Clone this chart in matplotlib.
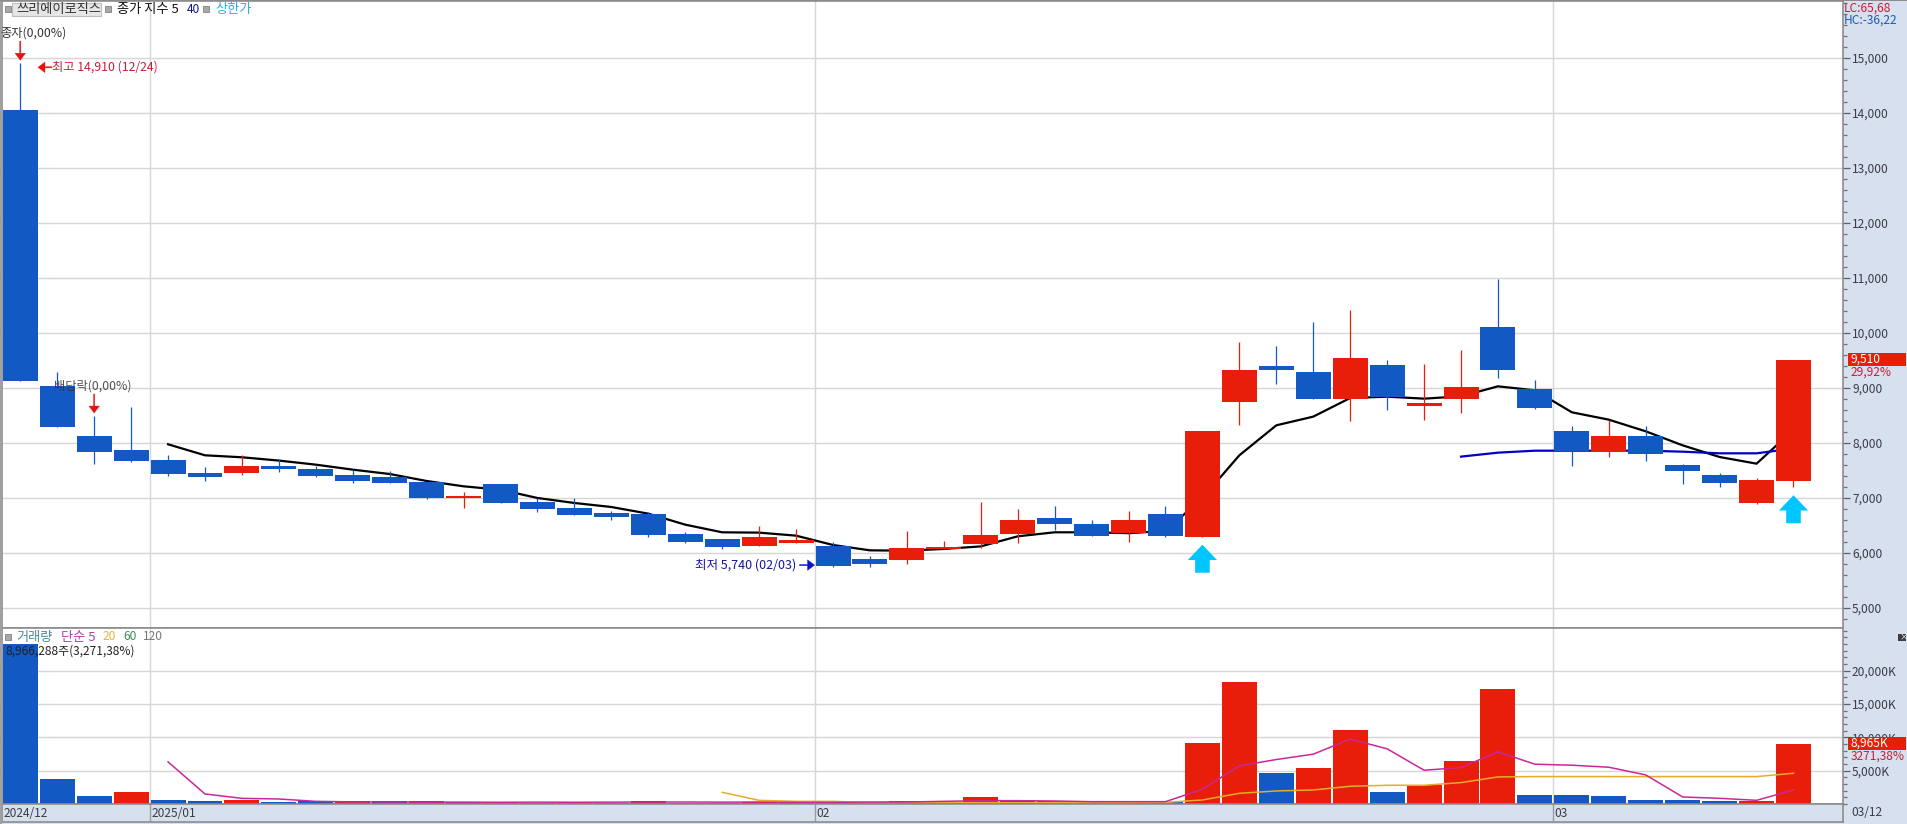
import matplotlib
matplotlib.use("Agg")
import matplotlib.pyplot as plt
from matplotlib.patches import Rectangle
from matplotlib.ticker import FuncFormatter, MultipleLocator

plt.rcParams['font.family'] = ['Noto Sans CJK KR', 'DejaVu Sans']

W, H = 1908, 824

# candles, oldest first
opens = [14050, 9040, 8127, 7873, 7690, 7460, 7460, 7580, 7525, 7420, 7380, 7290, 7000, 7255, 6933, 6824, 6720,
         6715, 6350, 6260, 6133, 6188, 6133, 5897, 5879, 6073, 6170, 6350, 6642, 6533, 6370, 6715, 6290,
         8739, 9406, 9297, 8806, 9424, 8679, 8806, 10115, 8988, 8224, 7842, 8133, 7606, 7424, 6915, 7315]
closes = [9130, 8297, 7842, 7678, 7440, 7380, 7580, 7525, 7400, 7310, 7270, 7000, 7040, 6900, 6806, 6697, 6660,
          6333, 6206, 6115, 6297, 6242, 5770, 5806, 6097, 6115, 6333, 6606, 6533, 6315, 6606, 6315, 8218,
          9333, 9333, 8806, 9552, 8842, 8733, 9024, 9333, 8642, 7861, 8133, 7806, 7497, 7279, 7333, 9510]
highs = [14910, 9290, 8490, 8655, 7780, 7570, 7780, 7710, 7580, 7510, 7490, 7290, 7110, 7255, 7000, 7000, 6760,
         6740, 6376, 6260, 6497, 6442, 6206, 5950, 6406, 6224, 6933, 6806, 6860, 6606, 6770, 6860, 8218,
         9842, 9770, 10206, 10424, 9515, 9442, 9697, 10988, 9151, 8315, 8424, 8315, 7624, 7460, 7370, 9510]
lows = [9130, 8297, 7620, 7650, 7400, 7310, 7420, 7480, 7380, 7270, 7270, 6980, 6820, 6900, 6740, 6697, 6594,
        6285, 6188, 6080, 6133, 6188, 5740, 5750, 5806, 6073, 6097, 6188, 6424, 6315, 6206, 6297, 6290,
        8333, 9079, 8806, 8406, 8606, 8424, 8552, 9188, 8624, 7588, 7751, 7680, 7260, 7206, 6897, 7205]

ma5 = [7976, 7776, 7740, 7680, 7606, 7515, 7436, 7309, 7212, 7150, 7000, 6909, 6836, 6715, 6515, 6376, 6370, 6315,
       6145, 6048, 6042, 6073, 6120, 6303, 6376, 6376, 6360, 6400, 7000, 7776, 8321, 8479, 8818, 8842, 8806, 8848,
       9030, 8958, 8558, 8424, 8212, 7957, 7745, 7624, 8240]
ma5_start = 4
ma40 = [7752, 7824, 7860, 7860, 7860, 7860, 7842, 7812, 7812, 7900]
ma40_start = 39

volumes = [24000, 3765, 1205, 1807, 552, 400, 600, 300, 400, 400, 400, 500, 250, 250, 200, 250, 200, 500, 200, 200,
           300, 250, 300, 150, 500, 150, 1050, 550, 450, 300, 450, 350, 9186, 18373, 4668, 5422, 11145, 1807, 2861,
           6476, 17319, 1355, 1355, 1205, 602, 602, 452, 452, 8965]
volume_up = [0, 0, 0, 1, 0, 0, 1, 0, 0, 1, 0, 1, 0, 1, 0, 1, 0, 1, 0, 0, 1, 0, 1, 0, 1, 0, 1, 0, 0, 0, 1, 0,
             1, 1, 0, 1, 1, 0, 1, 1, 1, 0, 0, 0, 0, 0, 0, 1, 1]

vol_ma5 = [6325, 1506, 853, 753, 400, 320, 300, 280, 280, 260, 280, 260, 280, 300, 300, 280, 300, 250, 250, 300,
           300, 400, 500, 500, 450, 350, 350, 350, 2209, 5723, 6677, 7480, 9739, 8283, 5070, 5472, 7831, 5974,
           5823, 5522, 4367, 1054, 853, 552, 2108]
vol_ma5_start = 4
vol_ma20 = [1750, 550, 400, 400, 200, 200, 200, 200, 200, 200, 200, 200, 250, 602, 1606, 1958, 2108, 2660, 2811,
            2811, 3213, 4066, 4116, 4116, 4116, 4116, 4116, 4116, 4116, 4618]
vol_ma20_start = 19

month_starts = [0, 4, 22, 42]
month_labels = ["2024/12", "2025/01", "02", "03"]

price_ticks = [5000, 6000, 7000, 8000, 9000, 10000, 11000, 12000, 13000, 14000, 15000]
volume_ticks = [5000, 10000, 15000, 20000]
signal_bars = [32, 48]
signal_tips = [6150, 7050]

RED = "#e81e0a"
BLUE = "#1259c3"
GRID = "#d6d6d6"
PANEL = "#d6e0ee"
EDGE = "#8c8c8c"
TICK_TEXT = "#3c3c46"
FS = 8.6
FS_KR = 9.5


def box(left, top, right, bottom):
    return [left / W, 1 - bottom / H, (right - left) / W, (bottom - top) / H]


def label(x, y, text, color="#222222", size=FS, **kw):
    fig.text(x / W, 1 - y / H, text, color=color, fontsize=size, va="center", **kw)


def marker(x, y):
    fig.add_artist(Rectangle((x / W, 1 - (y + 3) / H), 6 / W, 6 / H, transform=fig.transFigure,
                             facecolor="#a8a8a8", edgecolor="#707070", lw=0.5))


fig = plt.figure(figsize=(W / 100, H / 100), dpi=100, facecolor=PANEL)
ax = fig.add_axes(box(2, 1, 1843, 628))
vol = fig.add_axes(box(2, 628, 1843, 804))
strip = fig.add_axes(box(2, 804, 1843, 822))

xs = list(range(len(opens)))
xlim = (-0.495, 49.34)
bar_w = 0.947

for a in (ax, vol):
    a.set_xlim(xlim)
    a.set_xticks([])
    a.yaxis.tick_right()
    a.grid(axis="y", color=GRID, lw=1.0)
    a.set_axisbelow(True)
    for m in month_starts[1:]:
        a.axvline(m - 0.5, color=GRID, lw=1.0, zorder=0.5)
    for s in a.spines.values():
        s.set_color(EDGE)
        s.set_linewidth(1.2)
    a.tick_params(axis="y", which="major", length=5, width=0.9, color="#606060", labelcolor=TICK_TEXT,
                  labelsize=FS, pad=1.5)
    a.tick_params(axis="y", which="minor", length=3, width=0.9, color="#707070", left=False, right=True)
    a.yaxis.set_major_formatter(FuncFormatter(lambda v, p: f"{int(v):,}"))

# price pane
ax.set_ylim(4636, 16036)
ax.set_yticks(price_ticks)
ax.yaxis.set_minor_locator(MultipleLocator(200))

ax.plot(range(ma5_start, ma5_start + len(ma5)), ma5, color="#000000", lw=1.6, zorder=2)
ax.plot(range(ma40_start, ma40_start + len(ma40)), ma40, color="#0000c8", lw=1.6, zorder=2)

for i in xs:
    c = RED if closes[i] >= opens[i] else BLUE
    ax.vlines(i, lows[i], highs[i], color=c, lw=0.9, zorder=3)
    ax.bar(i, abs(closes[i] - opens[i]), bottom=min(opens[i], closes[i]), width=bar_w, color=c, zorder=4)

for i, tip in zip(signal_bars, signal_tips):
    ax.annotate("", xy=(i, tip), xytext=(0, -28), textcoords="offset pixels", annotation_clip=False,
                arrowprops=dict(width=10.5, headwidth=21, headlength=11, shrink=0, facecolor="#00c6ff",
                                edgecolor="none"), zorder=6)


def small_arrow(xy, offset, color):
    ax.annotate("", xy=xy, xytext=offset, textcoords="offset pixels",
                arrowprops=dict(width=0.8, headwidth=7.5, headlength=5, shrink=0, facecolor=color,
                                edgecolor=color, lw=0.3), zorder=6)


small_arrow((0, 14960), (0, 19), "#e81010")
small_arrow((2, 8545), (0, 19), "#e81010")
small_arrow((0.48, 14830), (14, 0), "#e81010")
small_arrow((21.5, 5780), (-15, 0), "#1010c8")

# volume pane
vol.set_ylim(0, 26426)
vol.set_yticks(volume_ticks)
vol.yaxis.set_minor_locator(MultipleLocator(1000))
vol.yaxis.set_major_formatter(FuncFormatter(lambda v, p: f"{int(v):,}K"))
vol.bar(xs, volumes, width=bar_w, color=[RED if u else BLUE for u in volume_up], zorder=3)
vol.plot(range(vol_ma20_start, vol_ma20_start + len(vol_ma20)), vol_ma20, color="#e8ac28", lw=1.1, zorder=4)
vol.plot(range(vol_ma5_start, vol_ma5_start + len(vol_ma5)), vol_ma5, color="#c8289a", lw=1.1, zorder=5)

# date strip
strip.set_xlim(xlim)
strip.set_ylim(0, 1)
strip.set_xticks([])
strip.set_yticks([])
strip.set_facecolor(PANEL)
for s in strip.spines.values():
    s.set_color(EDGE)
    s.set_linewidth(1.2)
for m, t in zip(month_starts, month_labels):
    if m > 0:
        strip.axvline(m - 0.5, color="#9a9aa0", lw=1)
    strip.text(m - 0.46, 0.46, t, color=TICK_TEXT, fontsize=FS, va="center", ha="left")
label(1851, 813, "03/12", TICK_TEXT)

# header of price pane
marker(5, 9)
fig.add_artist(Rectangle((12.5 / W, 1 - 16 / H), 89 / W, 13 / H, transform=fig.transFigure,
                         facecolor="#e6e6e6", edgecolor="#bdbdbd", lw=0.8, zorder=5))
label(16, 9.5, "쓰리에이로직스", "#333333", size=FS_KR, zorder=6)
marker(105, 9)
label(117, 9.5, "종가 지수 5", "#111111", size=FS_KR)
label(187, 9.5, "40", "#10108c")
marker(203, 9)
label(215, 9.5, "상한가", "#28b4d2", size=FS_KR)

label(0, 33, "종자(0,00%)", "#333333", size=8.8)
label(52, 67, "최고 14,910 (12/24)", "#c81e32", size=8.8)
label(54, 386, "배당락(0,00%)", "#333333", size=8.8, alpha=0.85)
label(695, 565, "최저 5,740 (02/03)", "#1414a0", size=9)

label(1844, 8, "LC:65,68", "#c81e32")
label(1844, 20, "HC:-36,22", "#1e5ab4")

for top, value, change in [(353, "9,510", "29,92%"), (737, "8,965K", "3271,38%")]:
    fig.add_artist(Rectangle((1848 / W, 1 - (top + 13) / H), 58 / W, 13 / H, transform=fig.transFigure,
                             facecolor=RED, edgecolor="none", zorder=5))
    label(1851, top + 6.5, value, "#ffffff", zorder=6)
    label(1851, top + 19, change, "#c81e32", zorder=6)

# header of volume pane
marker(5, 637)
label(16, 637, "거래량", "#468c96", size=FS_KR)
label(61, 637, "단순 5", "#b43ca0", size=FS_KR)
label(103, 637, "20", "#e6b446")
label(123, 637, "60", "#3c8c5a")
label(143, 637, "120", "#787878")
label(6, 651, "8,966,288주(3,271,38%)", "#222222", zorder=6)

fig.add_artist(Rectangle((1898 / W, 1 - 641 / H), 8 / W, 7 / H, transform=fig.transFigure,
                         facecolor="#3c3c3c", edgecolor="none"))
label(1899.5, 637, "×", "#ffffff", size=6)

fig.add_artist(Rectangle((0, 0), 2 / W, 1, transform=fig.transFigure, facecolor="#a0a0a0", edgecolor="none"))
fig.add_artist(Rectangle((0, 1 - 1 / H), 1, 1 / H, transform=fig.transFigure, facecolor="#8c8c8c", edgecolor="none"))

fig.savefig("out.png", dpi=100, facecolor=fig.get_facecolor())
